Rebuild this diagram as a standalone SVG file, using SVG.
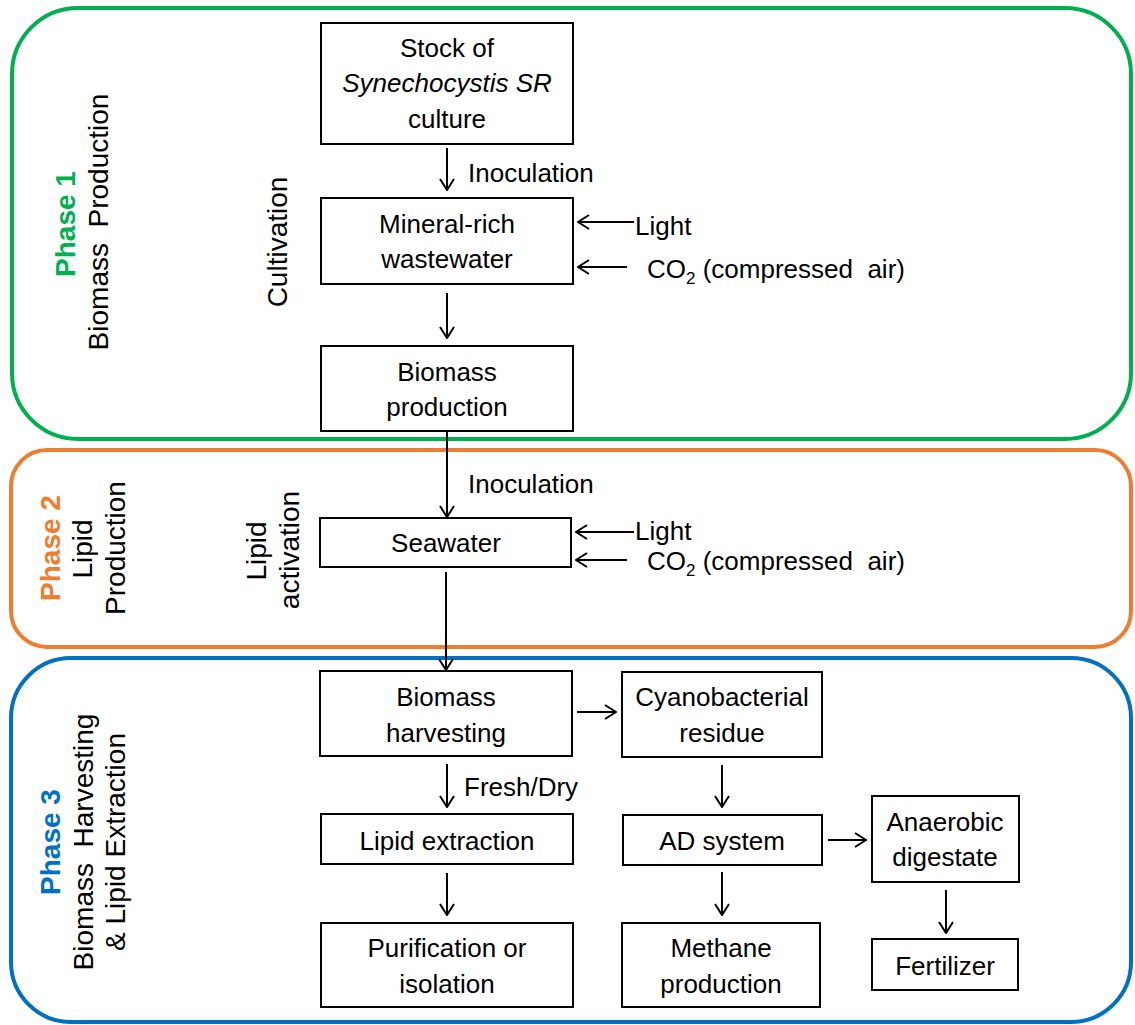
<svg xmlns="http://www.w3.org/2000/svg" width="1135" height="1025" viewBox="0 0 1135 1025">
<defs>
<style>
.t{font-family:"Liberation Sans",Arial,sans-serif;font-size:26px;fill:#000;}
.m{text-anchor:middle;}
.ph{font-family:"Liberation Sans",Arial,sans-serif;font-size:28px;fill:#000;text-anchor:middle;white-space:pre;}
.pb{font-weight:bold;}
.box{fill:#fff;stroke:#000;stroke-width:2;}
.c{stroke:#000;stroke-width:2;fill:none;marker-end:url(#ah);}
.frame{fill:none;stroke-width:4;}
.pre{white-space:pre;}
</style>
<marker id="ah" viewBox="0 0 13 16" refX="12" refY="8" markerWidth="13" markerHeight="16" orient="auto" markerUnits="userSpaceOnUse">
<path d="M1,1 L12,8 L1,15" fill="none" stroke="#000" stroke-width="2"/>
</marker>
</defs>
<rect fill="#fff" x="0" y="0" width="1135" height="1025"/>

<g id="phase1">
<rect class="frame" x="12" y="8" width="1119" height="431" rx="66" ry="66" stroke="#00B050"/>
<text class="ph" transform="translate(75,224) rotate(-90)"><tspan class="pb" fill="#00B050">Phase 1</tspan></text>
<text class="ph" xml:space="preserve" transform="translate(108,222) rotate(-90)">Biomass  Production</text>
<text class="ph" transform="translate(287,242) rotate(-90)">Cultivation</text>
</g>
<g id="phase2">
<rect class="frame" x="11" y="450" width="1120" height="197" rx="36" ry="36" stroke="#ED7D31"/>
<text class="ph" transform="translate(60,548) rotate(-90)"><tspan class="pb" fill="#ED7D31">Phase 2</tspan></text>
<text class="ph" transform="translate(92,549) rotate(-90)">Lipid</text>
<text class="ph" transform="translate(125,548) rotate(-90)">Production</text>
<text class="ph" transform="translate(266,551) rotate(-90)">Lipid</text>
<text class="ph" transform="translate(299,550) rotate(-90)">activation</text>
</g>
<g id="phase3">
<rect class="frame" x="11" y="658" width="1120" height="364" rx="60" ry="60" stroke="#0070C0"/>
<text class="ph" transform="translate(60,842) rotate(-90)"><tspan class="pb" fill="#0070C0">Phase 3</tspan></text>
<text class="ph" xml:space="preserve" transform="translate(93,842) rotate(-90)">Biomass  Harvesting</text>
<text class="ph" transform="translate(125,842) rotate(-90)">&amp; Lipid Extraction</text>
</g>

<g id="connectors">
<line class="c" x1="447" y1="148" x2="447" y2="190"/>
<line class="c" x1="447" y1="293" x2="447" y2="338"/>
<line class="c" x1="447" y1="431" x2="447" y2="517"/>
<line class="c" x1="446" y1="572" x2="446" y2="670"/>
<line class="c" x1="577" y1="712" x2="616" y2="712"/>
<line class="c" x1="447" y1="764" x2="447" y2="807"/>
<line class="c" x1="447" y1="873" x2="447" y2="915"/>
<line class="c" x1="722" y1="765" x2="722" y2="807"/>
<line class="c" x1="828" y1="840" x2="866" y2="840"/>
<line class="c" x1="722" y1="872" x2="722" y2="915"/>
<line class="c" x1="946" y1="890" x2="946" y2="933"/>
<line class="c" x1="634" y1="222" x2="578" y2="222"/>
<line class="c" x1="627" y1="267" x2="578" y2="267"/>
<line class="c" x1="634" y1="532" x2="576" y2="532"/>
<line class="c" x1="627" y1="560" x2="576" y2="560"/>
<text class="t" x="468" y="182">Inoculation</text>
<text class="t" x="468" y="493">Inoculation</text>
<text class="t" x="464" y="796">Fresh/Dry</text>
<text class="t" x="635" y="235">Light</text>
<text class="t pre" xml:space="preserve" x="647" y="278">CO<tspan font-size="17" dy="6">2</tspan><tspan dy="-6"> (compressed  air)</tspan></text>
<text class="t" x="635" y="540">Light</text>
<text class="t pre" xml:space="preserve" x="647" y="570">CO<tspan font-size="17" dy="6">2</tspan><tspan dy="-6"> (compressed  air)</tspan></text>
</g>

<g id="stock">
<rect class="box" x="321" y="23" width="252" height="121"/>
<text class="t m" x="447" y="57">Stock of</text>
<text class="t m" x="447" y="92" font-style="italic">Synechocystis SR</text>
<text class="t m" x="447" y="128">culture</text>
</g>
<g id="mineral">
<rect class="box" x="321" y="198" width="252" height="86"/>
<text class="t m" x="447" y="233">Mineral-rich</text>
<text class="t m" x="447" y="268">wastewater</text>
</g>
<g id="biomass-production">
<rect class="box" x="321" y="346" width="252" height="85"/>
<text class="t m" x="447" y="381">Biomass</text>
<text class="t m" x="447" y="416">production</text>
</g>
<g id="seawater">
<rect class="box" x="320" y="518" width="251" height="49"/>
<text class="t m" x="446" y="552">Seawater</text>
</g>
<g id="harvesting">
<rect class="box" x="320" y="671" width="252" height="85"/>
<text class="t m" x="446" y="706">Biomass</text>
<text class="t m" x="446" y="742">harvesting</text>
</g>
<g id="cyano">
<rect class="box" x="622" y="672" width="200" height="85"/>
<text class="t m" x="722" y="706">Cyanobacterial</text>
<text class="t m" x="722" y="742">residue</text>
</g>
<g id="lipid-extraction">
<rect class="box" x="321" y="814" width="252" height="50"/>
<text class="t m" x="447" y="850">Lipid extraction</text>
</g>
<g id="ad">
<rect class="box" x="623" y="815" width="199" height="50"/>
<text class="t m" x="722" y="850">AD system</text>
</g>
<g id="anaerobic">
<rect class="box" x="872" y="796" width="147" height="86"/>
<text class="t m" x="945" y="831">Anaerobic</text>
<text class="t m" x="945" y="866">digestate</text>
</g>
<g id="purification">
<rect class="box" x="321" y="923" width="252" height="84"/>
<text class="t m" x="447" y="957">Purification or</text>
<text class="t m" x="447" y="993">isolation</text>
</g>
<g id="methane">
<rect class="box" x="622" y="923" width="198" height="84"/>
<text class="t m" x="721" y="957">Methane</text>
<text class="t m" x="721" y="993">production</text>
</g>
<g id="fertilizer">
<rect class="box" x="872" y="939" width="146" height="51"/>
<text class="t m" x="945" y="975">Fertilizer</text>
</g>
</svg>
